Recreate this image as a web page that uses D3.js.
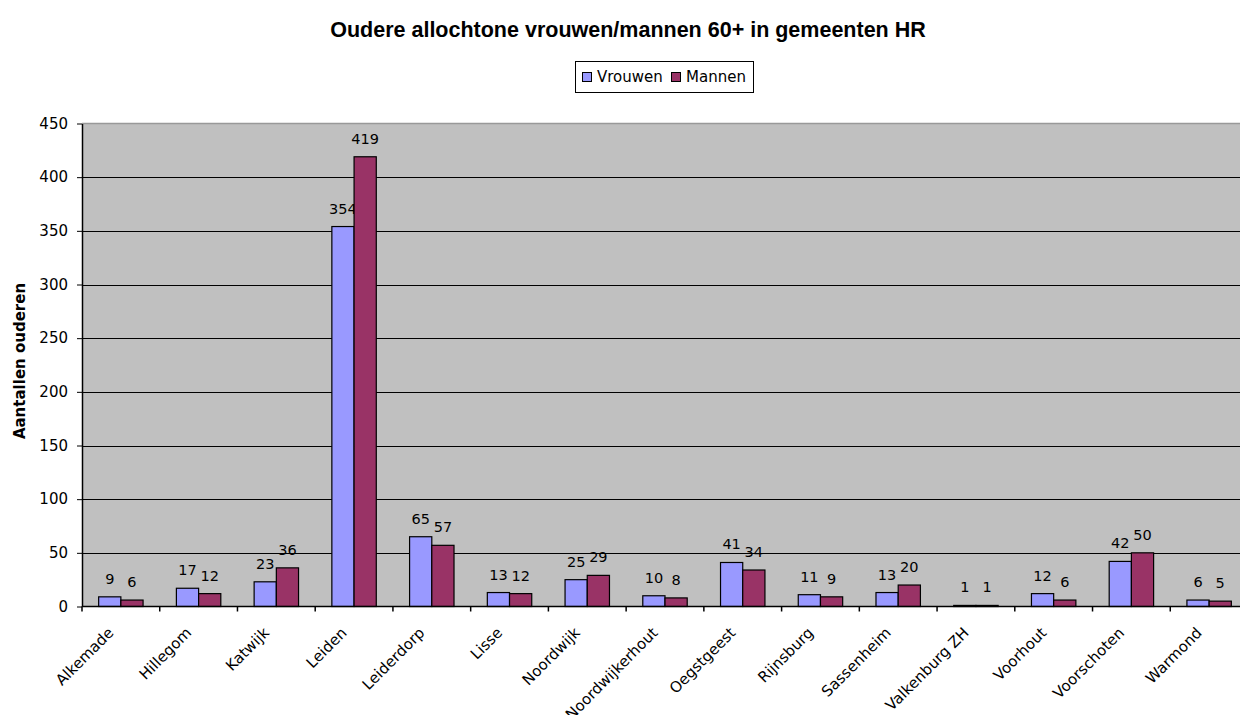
<!DOCTYPE html>
<html lang="nl">
<head>
    <meta charset="UTF-8">
    <title>Oudere allochtone vrouwen/mannen 60+</title>
    <style type="text/css">
        body { margin:0; background:#fff }
        svg text { font-family: "DejaVu Sans", sans-serif; fill:#000 }
    </style>
</head>
<body>
<script src="https://d3js.org/d3.v7.min.js"></script>
<script>
    var categories = ['Alkemade','Hillegom','Katwijk','Leiden','Leiderdorp','Lisse','Noordwijk',
                      'Noordwijkerhout','Oegstgeest','Rijnsburg','Sassenheim','Valkenburg ZH',
                      'Voorhout','Voorschoten','Warmond'];
    var vrouwen = [9, 17, 23, 354, 65, 13, 25, 10, 41, 11, 13, 1, 12, 42, 6];
    var mannen  = [6, 12, 36, 419, 57, 12, 29, 8, 34, 9, 20, 1, 6, 50, 5];
    var seriesNames = ['Vrouwen', 'Mannen'];
    var seriesColors = ['#9999ff', '#993366'];
    var yTicks = [0, 50, 100, 150, 200, 250, 300, 350, 400, 450];

    var width = 1240,
        height = 715,
        plotL = 82, plotT = 123.5, plotR = 1248, plotB = 606.5;

    var svg = d3.select('body').append('svg')
        .attr('width', width)
        .attr('height', height);

    var xScale = d3.scaleBand().domain(categories).range([plotL, plotR]);
    var bw = xScale.bandwidth(),
        barW = bw / 3.5;
    var xSub = d3.scaleBand().domain(seriesNames).range([barW * 0.75, bw - barW * 0.75]);
    var yScale = d3.scaleLinear().domain([0, 450]).range([plotB, plotT]);

    // plot area
    svg.append('rect')
       .attr('x', plotL).attr('y', plotT)
       .attr('width', plotR - plotL).attr('height', plotB - plotT)
       .attr('fill', '#c0c0c0');

    svg.append('line')
       .attr('x1', plotL).attr('x2', plotR)
       .attr('y1', plotT).attr('y2', plotT)
       .attr('stroke', '#999').attr('stroke-width', 1.5);

    svg.selectAll('line.grid')
       .data(yTicks.filter(function(d){ return d > 0 && d < 450; }))
       .enter()
       .append('line')
       .attr('class', 'grid')
       .attr('x1', plotL).attr('x2', plotR)
       .attr('y1', function(d){ return Math.round(yScale(d)) + 0.5; })
       .attr('y2', function(d){ return Math.round(yScale(d)) + 0.5; })
       .attr('stroke', '#000').attr('stroke-width', 1);

    // bars and labels per series
    [vrouwen, mannen].forEach(function(values, si) {
        var name = seriesNames[si];
        var g = svg.append('g');
        g.selectAll('rect')
         .data(values)
         .enter()
         .append('rect')
         .attr('x', function(d, i){ return xScale(categories[i]) + xSub(name); })
         .attr('y', function(d){ return yScale(d); })
         .attr('width', xSub.bandwidth())
         .attr('height', function(d){ return yScale(0) - yScale(d); })
         .attr('fill', seriesColors[si])
         .attr('stroke', '#000')
         .attr('stroke-width', 1.2);
        g.selectAll('text')
         .data(values)
         .enter()
         .append('text')
         .attr('x', function(d, i){ return xScale(categories[i]) + xSub(name) + xSub.bandwidth() / 2; })
         .attr('y', function(d){ return yScale(d) - 13; })
         .attr('text-anchor', 'middle')
         .attr('font-size', '14.5px')
         .text(function(d){ return d; });
    });

    // y axis
    var yAxis = d3.axisLeft(yScale).tickValues(yTicks).tickSize(5).tickSizeOuter(0).tickPadding(9);
    var ya = svg.append('g')
       .attr('class', 'y-axis')
       .attr('transform', 'translate(' + plotL + ',0)')
       .call(yAxis);
    ya.selectAll('text').attr('font-size', '15px').attr('font-family', '"DejaVu Sans", sans-serif');
    ya.select('.domain').attr('stroke', '#000').attr('stroke-width', 1.5);

    // x axis
    var xa = svg.append('g').attr('class', 'x-axis');
    xa.append('line')
      .attr('x1', plotL).attr('x2', plotR)
      .attr('y1', plotB).attr('y2', plotB)
      .attr('stroke', '#000').attr('stroke-width', 1.5);
    xa.selectAll('line.tick')
      .data(categories)
      .enter()
      .append('line')
      .attr('class', 'tick')
      .attr('x1', function(d){ return xScale(d); })
      .attr('x2', function(d){ return xScale(d); })
      .attr('y1', plotB).attr('y2', plotB + 5)
      .attr('stroke', '#000').attr('stroke-width', 1.5);
    xa.selectAll('text')
      .data(categories)
      .enter()
      .append('text')
      .attr('text-anchor', 'end')
      .attr('dy', '0.35em')
      .attr('font-size', '15px')
      .attr('transform', function(d){
          return 'translate(' + (xScale(d) + bw / 2 - 10) + ',630) rotate(-45)';
      })
      .text(function(d){ return d; });

    // axis title
    svg.append('text')
       .attr('transform', 'translate(25,' + ((plotT + plotB) / 2 - 4) + ') rotate(-90)')
       .attr('text-anchor', 'middle')
       .attr('font-weight', 'bold')
       .attr('font-size', '15px')
       .text('Aantallen ouderen');

    // title
    svg.append('text')
       .attr('x', 628).attr('y', 37)
       .attr('text-anchor', 'middle')
       .style('font-family', '"Liberation Sans", Arial, sans-serif')
       .attr('font-weight', 'bold')
       .attr('font-size', '21.5px')
       .text('Oudere allochtone vrouwen/mannen 60+ in gemeenten HR');

    // legend
    var legend = svg.append('g');
    legend.append('rect')
       .attr('x', 575.5).attr('y', 61.5)
       .attr('width', 178).attr('height', 31)
       .attr('fill', '#fff').attr('stroke', '#000').attr('stroke-width', 1);
    var legX = [582, 671];
    seriesNames.forEach(function(name, i) {
        legend.append('rect')
           .attr('x', legX[i] + 0.5).attr('y', 72.5)
           .attr('width', 9).attr('height', 9)
           .attr('fill', seriesColors[i]).attr('stroke', '#000');
        legend.append('text')
           .attr('x', legX[i] + 15).attr('y', 82)
           .attr('font-size', '15px')
           .text(name);
    });
</script>
</body>
</html>
